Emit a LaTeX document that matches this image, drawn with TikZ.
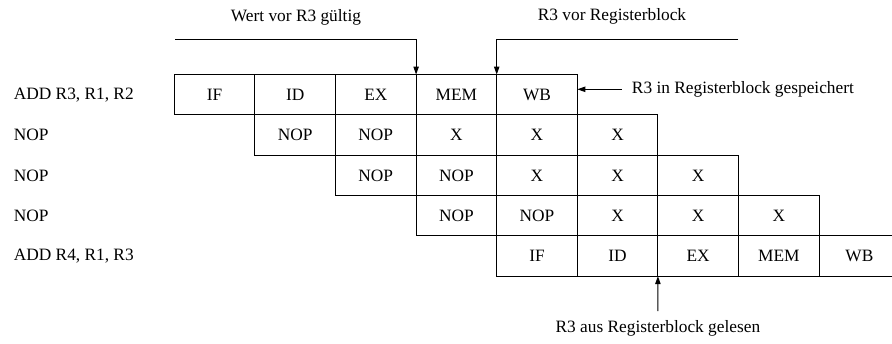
\documentclass[tikz,border=0pt]{standalone}
\usepackage{fontspec}
\setmainfont{Liberation Serif}
\usetikzlibrary{arrows.meta}

\begin{document}
\begin{tikzpicture}[x=0.75pt,y=-0.75pt,>={Triangle[length=6pt,width=4pt]},
  font=\fontsize{13}{15}\selectfont,line width=0.8pt,
  stage/.style={draw,minimum width=60.45pt,minimum height=30.2pt,inner sep=0pt,outer sep=0pt},
  instr/.style={anchor=west,inner sep=0pt}]
\clip (0,0) rectangle (892,343);
% pipeline stages, one row per instruction
\foreach \row/\stages in {0/{IF,ID,EX,MEM,WB},1/{NOP,NOP,X,X,X},2/{NOP,NOP,X,X,X},3/{NOP,NOP,X,X,X},4/{IF,ID,EX,MEM,WB}}
  \foreach \st [count=\i from 0] in \stages {
    \pgfmathtruncatemacro\col{\row+\i}
    \node[stage] (s\row-\col) at ({174.3+80.6*(\col+0.5)},{74.6+40.3*(\row+0.5)}) {\st};
  }
\foreach \row/\txt in {0/{ADD R3, R1, R2},1/NOP,2/NOP,3/NOP,4/{ADD R4, R1, R3}}
  \node[instr] (lbl\row) at (13.3,{74.6+40.3*(\row+0.5)}) {\txt};
% annotations
\node (wert) at (296,17) {Wert vor R3 gültig};
\node (vor) at (612,16) {R3 vor Registerblock};
\coordinate (wl) at (175,39.3);
\coordinate (vr) at (738.3,39.3);
\draw[->] (wl) -| (s0-3.north west);
\draw[->] (vr) -| (s0-4.north west);
\coordinate (sp) at (621.7,89.3);
\node[anchor=west] (gesp) at (627,89.3) {R3 in Registerblock gespeichert};
\draw[->] (sp) -- (sp -| s0-4.east);
\coordinate (rd) at (657.9,311);
\node[below=3pt] (gel) at (rd) {R3 aus Registerblock gelesen};
\draw[->] (rd) -- (s4-6.south west);
\end{tikzpicture}
\end{document}
